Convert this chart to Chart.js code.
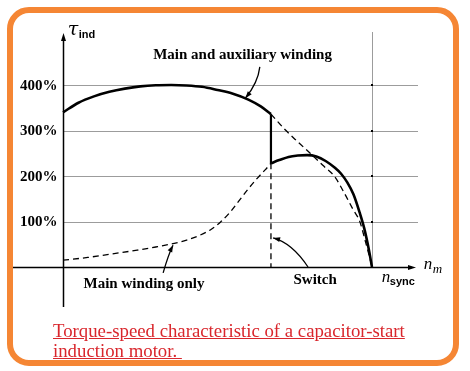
<!DOCTYPE html>
<html>
<head>
<meta charset="utf-8">
<script src="https://cdn.jsdelivr.net/npm/chart.js@4.4.1/dist/chart.umd.min.js"></script>
<style>
    html, body { margin: 0; padding: 0; background: #fff; }
    #frame {
        position: absolute; left: 7px; top: 7px; width: 452px; height: 359px;
        box-sizing: border-box; border: 6px solid #f58634; border-radius: 22px;
    }
    #wrap { position: absolute; left: 0; top: 0; width: 470px; height: 371px; }
    #caption {
        position: absolute; left: 53px; top: 321px;
        font-family: "Liberation Serif", "Times New Roman", serif;
        font-size: 18.8px; line-height: 20px; color: #d9262c;
        text-decoration: underline; white-space: pre;
    }
</style>
</head>
<body>
<div id="frame"></div>
<div id="wrap"><canvas id="chart" width="470" height="371"></canvas></div>
<div id="caption">Torque-speed characteristic of a capacitor-start
induction motor. </div>

<script>
// speed in % of n_sync, torque in % of rated
const syncSpeed = 100;
const switchSpeed = 67.3;

// main and auxiliary winding (before the switch opens)
const auxSpeed  = [0, 5, 10, 15, 20, 25, 30, 35, 40, 45, 50, 55, 60, 64, 67.3];
const auxTorque = [340, 361, 375, 385, 392, 397, 399.5, 400, 399, 396, 389, 381, 368, 353, 336];

// drop when the switch opens
const dropSpeed  = [switchSpeed, switchSpeed];
const dropTorque = [336, 228];

// main winding only, after the switch
const mainRunSpeed  = [67.3, 70, 73, 76, 79, 82, 85, 88, 90, 92, 94, 96, 97.5, 99, 100];
const mainRunTorque = [228, 235, 242, 245, 246, 243, 233, 218, 205, 186, 160, 120, 85, 38, 0];

// main winding only, below the switch speed (dashed)
const mainStartSpeed  = [0, 8, 16, 24, 30, 36, 40, 44, 48, 51, 54, 57, 60, 63, 65.5, 67.3];
const mainStartTorque = [15, 21, 29, 37, 44, 52, 59, 69, 83, 99, 120, 146, 172, 196, 214, 228];

// main and auxiliary winding if the switch stayed closed (dashed)
const auxRunSpeed  = [67.3, 72, 76, 80, 84, 88, 91, 94, 96, 98, 99.3, 100];
const auxRunTorque = [336, 301, 275, 250, 224, 198, 163, 125, 101, 53, 20, 0];

// switch marker (dashed)
const switchLineSpeed  = [switchSpeed, switchSpeed];
const switchLineTorque = [228, 0];

const yTicks = [100, 200, 300, 400];
const yTickLabels = ["100%", "200%", "300%", "400%"];

const toPoints = (xs, ys) => xs.map((v, i) => ({ x: v, y: ys[i] }));

function arrowHead(ctx, tipX, tipY, fromX, fromY, len, half) {
    const a = Math.atan2(tipY - fromY, tipX - fromX);
    ctx.beginPath();
    ctx.moveTo(tipX, tipY);
    ctx.lineTo(tipX - len * Math.cos(a) + half * Math.sin(a), tipY - len * Math.sin(a) - half * Math.cos(a));
    ctx.lineTo(tipX - len * Math.cos(a) - half * Math.sin(a), tipY - len * Math.sin(a) + half * Math.cos(a));
    ctx.closePath();
    ctx.fill();
}

// curved pointer lines: [from, control, tip] in data units
const notes = [
    [[63.7, 440], [63.1, 405], [59, 371]],
    [[32.4, -13], [34.0, 26], [35.6, 48]],
    [[79.3, 0], [74.1, 53], [68.0, 64]]
];

const axesPlugin = {
    id: "motorAxes",
    beforeDatasetsDraw(chart) {
        const { ctx, chartArea } = chart;
        const x = chart.scales.x, y = chart.scales.y;
        const x0 = Math.round(x.getPixelForValue(0)) + 0.5;
        const y0 = Math.round(y.getPixelForValue(0)) + 0.5;
        ctx.save();

        // grid
        ctx.strokeStyle = "#9c9c9c";
        ctx.lineWidth = 1;
        yTicks.forEach((v) => {
            const py = Math.round(y.getPixelForValue(v)) + 0.5;
            ctx.beginPath();
            ctx.moveTo(x0, py);
            ctx.lineTo(chartArea.right, py);
            ctx.stroke();
        });
        const sx = Math.round(x.getPixelForValue(syncSpeed)) + 0.5;
        ctx.beginPath();
        ctx.moveTo(sx, chartArea.top);
        ctx.lineTo(sx, y0);
        ctx.stroke();

        // axes
        ctx.strokeStyle = "#000";
        ctx.fillStyle = "#000";
        ctx.lineWidth = 1.5;
        ctx.beginPath();
        ctx.moveTo(chartArea.left, y0);
        ctx.lineTo(chartArea.right - 6, y0);
        ctx.stroke();
        arrowHead(ctx, chartArea.right - 2, y0, chartArea.left, y0, 8, 2.5);
        ctx.beginPath();
        ctx.moveTo(x0, chartArea.bottom);
        ctx.lineTo(x0, chartArea.top + 6);
        ctx.stroke();
        arrowHead(ctx, x0, chartArea.top + 1, x0, chartArea.bottom, 8, 2.5);

        // tick labels
        ctx.font = "bold 15px 'Liberation Serif', serif";
        ctx.textAlign = "right";
        ctx.textBaseline = "middle";
        yTicks.forEach((v, i) => {
            ctx.fillText(yTickLabels[i], x0 - 6, y.getPixelForValue(v) + 1);
        });
        ctx.restore();
    },
    afterDatasetsDraw(chart) {
        const { ctx } = chart;
        const x = chart.scales.x, y = chart.scales.y;
        const px = (v) => x.getPixelForValue(v);
        const py = (v) => y.getPixelForValue(v);
        ctx.save();
        ctx.fillStyle = "#000";
        ctx.strokeStyle = "#000";

        // dots where grid meets the n_sync line
        const sx = Math.round(px(syncSpeed));
        yTicks.forEach((v) => ctx.fillRect(sx - 1, Math.round(py(v)) - 1, 2, 2));

        // pointer lines
        ctx.lineWidth = 1.3;
        notes.forEach(([a, c, b]) => {
            ctx.beginPath();
            ctx.moveTo(px(a[0]), py(a[1]));
            ctx.quadraticCurveTo(px(c[0]), py(c[1]), px(b[0]), py(b[1]));
            ctx.stroke();
            arrowHead(ctx, px(b[0]), py(b[1]), px(c[0]), py(c[1]), 7, 2.5);
        });

        // labels
        ctx.textBaseline = "middle";
        ctx.textAlign = "center";
        ctx.font = "bold 15px 'Liberation Serif', serif";
        ctx.fillText("Main and auxiliary winding", px(58.1), py(466));
        ctx.fillText("Main winding only", px(26.2), py(-37.4));
        ctx.fillText("Switch", px(81.6), py(-28.6));

        ctx.textAlign = "left";
        ctx.font = "italic 17px 'Liberation Serif', serif";
        ctx.fillText("n", px(103.2), py(-23));
        ctx.font = "bold 11px 'Liberation Sans', sans-serif";
        ctx.fillText("sync", px(103.2) + 8, py(-33));

        ctx.font = "italic 17px 'Liberation Serif', serif";
        ctx.fillText("n", px(116.8), py(5));
        ctx.font = "italic 13px 'Liberation Serif', serif";
        ctx.fillText("m", px(116.8) + 9, py(-6));

        ctx.font = "italic 19px 'DejaVu Serif', serif";
        ctx.fillText("τ", px(1.5), py(520));
        ctx.font = "bold 11px 'Liberation Sans', sans-serif";
        ctx.fillText("ind", px(1.5) + 11, py(510));
        ctx.restore();
    }
};

const solid = { borderColor: "#000", borderWidth: 2.6, cubicInterpolationMode: "monotone" };
const dashed = { borderColor: "#000", borderWidth: 1.3, borderDash: [6, 4], cubicInterpolationMode: "monotone" };

new Chart(document.getElementById("chart"), {
    type: "scatter",
    data: {
        datasets: [
            { ...solid, data: toPoints(auxSpeed, auxTorque) },
            { ...solid, borderWidth: 2.2, cubicInterpolationMode: "default", data: toPoints(dropSpeed, dropTorque) },
            { ...solid, data: toPoints(mainRunSpeed, mainRunTorque) },
            { ...dashed, data: toPoints(mainStartSpeed, mainStartTorque) },
            { ...dashed, data: toPoints(auxRunSpeed, auxRunTorque) },
            { ...dashed, cubicInterpolationMode: "default", data: toPoints(switchLineSpeed, switchLineTorque) }
        ]
    },
    options: {
        responsive: false,
        animation: false,
        devicePixelRatio: 1,
        showLine: true,
        elements: { point: { radius: 0, hoverRadius: 0 }, line: { fill: false } },
        layout: { padding: { left: 13, right: 52, top: 32, bottom: 64 } },
        plugins: { legend: { display: false }, tooltip: { enabled: false } },
        scales: {
            x: { type: "linear", min: -16.2, max: 114.9, display: false },
            y: { type: "linear", min: -87.9, max: 516.5, display: false }
        }
    },
    plugins: [axesPlugin]
});
</script>
</body>
</html>
